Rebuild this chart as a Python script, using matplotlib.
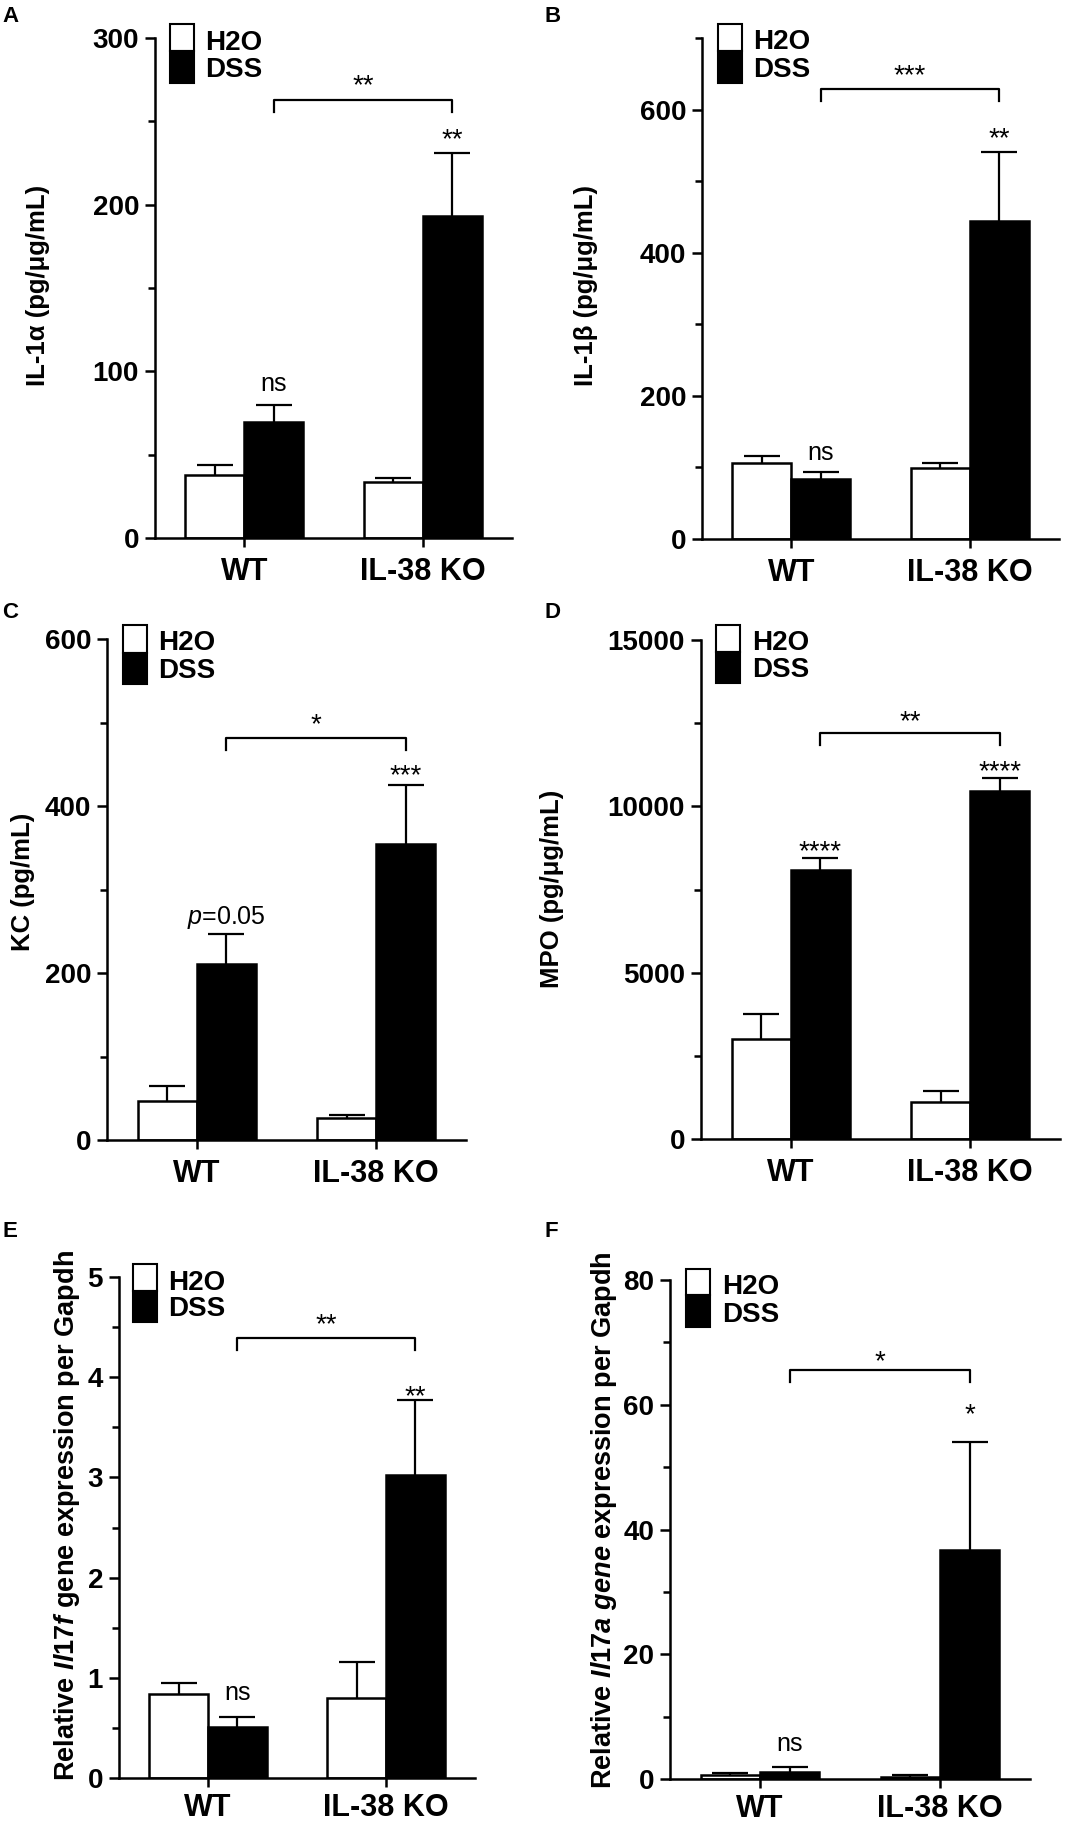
import numpy as np
import matplotlib.pyplot as plt
from matplotlib.patches import Rectangle
from matplotlib.ticker import MultipleLocator, FormatStrFormatter

plt.rcParams['font.family'] = ['Liberation Sans', 'DejaVu Sans']
plt.rcParams['font.weight'] = 'bold'
plt.rcParams['mathtext.fontset'] = 'custom'
plt.rcParams['mathtext.rm'] = 'Liberation Sans:weight=bold'
plt.rcParams['mathtext.it'] = 'Liberation Sans:style=italic:weight=bold'
plt.rcParams['mathtext.sf'] = 'Liberation Sans:style=italic:weight=normal'

groups = ['WT', 'IL-38 KO']

# A - IL-1a
il1a_h2o = [37.7, 33.5]
il1a_h2o_err = [6.3, 2.5]
il1a_dss = [69.5, 193]
il1a_dss_err = [10.5, 38]
il1a_sig = ['ns', '**', '**']          # WT DSS, KO DSS, bracket
il1a_bracket = 263

# B - IL-1b
il1b_h2o = [106, 99]
il1b_h2o_err = [10, 7]
il1b_dss = [84, 445]
il1b_dss_err = [10, 96]
il1b_sig = ['ns', '**', '***']
il1b_bracket = 629

# C - KC
kc_h2o = [47, 26]
kc_h2o_err = [17.5, 4]
kc_dss = [211, 354]
kc_dss_err = [36, 71]
kc_sig = [r'$\mathsf{p}$=0.05', '***', '*']
kc_bracket = 482

# D - MPO
mpo_h2o = [3000, 1110]
mpo_h2o_err = [770, 330]
mpo_dss = [8085, 10450]
mpo_dss_err = [360, 390]
mpo_sig = ['****', '****', '**']
mpo_bracket = 12215

# E - Il17f
il17f_h2o = [0.84, 0.80]
il17f_h2o_err = [0.11, 0.36]
il17f_dss = [0.51, 3.02]
il17f_dss_err = [0.10, 0.75]
il17f_sig = ['ns', '**', '**']
il17f_bracket = 4.39

# F - Il17a
il17a_h2o = [0.7, 0.3]
il17a_h2o_err = [0.3, 0.4]
il17a_dss = [1.2, 36.7]
il17a_dss_err = [0.7, 17.3]
il17a_sig = ['ns', '*', '*']
il17a_bracket = 65.6

W, H = 1077, 1827
fig = plt.figure(figsize=(W / 100, H / 100), dpi=100)


def px_axes(left, top, right, bottom):
    return fig.add_axes([left / W, 1 - bottom / H, (right - left) / W, (bottom - top) / H])


def fig_text(x, y, s, **kw):
    fig.text(x / W, 1 - y / H, s, **kw)


def fig_box(x, y, w, h, fc):
    fig.add_artist(Rectangle((x / W, 1 - (y + h) / H), w / W, h / H, transform=fig.transFigure,
                             facecolor=fc, edgecolor='black', linewidth=1.5))


# layout: axes box in pixels, legend geometry, label spots, annotation offsets (px above error top)
panels = [
    dict(letter='A', box=(155, 38, 512, 538), ylim=300, major=100, minor=50,
         ylabel='IL-1α (pg/μg/mL)', ylab_xy=(38, 285), ylab_fs=18.5, xpad=7,
         data=(il1a_h2o, il1a_h2o_err, il1a_dss, il1a_dss_err), sig=il1a_sig, bracket=il1a_bracket,
         offs=(14, 6, 6), leg=(170, 24, 27, 32, 205, 50, 77), letter_xy=(2, 6)),
    dict(letter='B', box=(702, 38, 1059, 539), ylim=700, major=200, minor=100,
         ylabel='IL-1β (pg/μg/mL)', ylab_xy=(586, 285), ylab_fs=18.5, xpad=7,
         data=(il1b_h2o, il1b_h2o_err, il1b_dss, il1b_dss_err), sig=il1b_sig, bracket=il1b_bracket,
         offs=(12, 6, 6), leg=(718, 24, 27, 32, 753, 49, 77), letter_xy=(545, 6)),
    dict(letter='C', box=(107, 639, 466, 1140), ylim=600, major=200, minor=100,
         ylabel='KC (pg/mL)', ylab_xy=(23, 882), ylab_fs=18.5, xpad=7,
         data=(kc_h2o, kc_h2o_err, kc_dss, kc_dss_err), sig=kc_sig, bracket=kc_bracket,
         offs=(10, 2, 5), leg=(123, 625, 28, 31, 158, 650, 678), letter_xy=(2, 602)),
    dict(letter='D', box=(701, 640, 1060, 1139), ylim=15000, major=5000, minor=2500,
         ylabel='MPO (pg/μg/mL)', ylab_xy=(552, 889), ylab_fs=18.5, xpad=7,
         data=(mpo_h2o, mpo_h2o_err, mpo_dss, mpo_dss_err), sig=mpo_sig, bracket=mpo_bracket,
         offs=(-1, -1, 3), leg=(716, 625, 27, 31, 752, 650, 677), letter_xy=(545, 602)),
    dict(letter='E', box=(119, 1277, 475, 1778), ylim=5, major=1, minor=0.5,
         ylabel=r'Relative $\mathit{Il17f}$ gene expression per Gapdh', ylab_xy=(67, 1516),
         ylab_fs=19.5, xpad=4.5,
         data=(il17f_h2o, il17f_h2o_err, il17f_dss, il17f_dss_err), sig=il17f_sig,
         bracket=il17f_bracket,
         offs=(17, -4, 6), leg=(133, 1264, 27, 31, 168, 1290, 1316), letter_xy=(2, 1221)),
    dict(letter='F', box=(670, 1280, 1030, 1779), ylim=80, major=20, minor=10,
         ylabel=r'Relative $\mathit{Il17a\ gene}$ expression per Gapdh', ylab_xy=(604, 1520),
         ylab_fs=19.5, xpad=4.5,
         data=(il17a_h2o, il17a_h2o_err, il17a_dss, il17a_dss_err), sig=il17a_sig,
         bracket=il17a_bracket,
         offs=(16, 20, 1), leg=(686, 1269, 26, 32, 722, 1294, 1322), letter_xy=(545, 1221)),
]

x = np.arange(1, len(groups) + 1)
w = 0.33

for p in panels:
    ax = px_axes(*p['box'])
    h2o, h2o_err, dss, dss_err = p['data']

    ax.bar(x - w / 2, h2o, w, color='white', edgecolor='black', linewidth=1.8, zorder=2)
    ax.bar(x + w / 2, dss, w, color='black', edgecolor='black', linewidth=1.8, zorder=2)
    for xs, m, e in [(x - w / 2, h2o, h2o_err), (x + w / 2, dss, dss_err)]:
        _, caps, _ = ax.errorbar(xs, m, yerr=[np.zeros(len(m)), e], fmt='none', ecolor='black',
                                 elinewidth=1.6, capsize=13, capthick=1.6, zorder=3)
        for c in caps:
            if np.allclose(c.get_ydata(), m):
                c.set_visible(False)

    ax.set_xlim(0.5, 2.5)
    ax.set_ylim(0, p['ylim'])
    ax.yaxis.set_major_locator(MultipleLocator(p['major']))
    ax.yaxis.set_minor_locator(MultipleLocator(p['minor']))
    ax.yaxis.set_major_formatter(FormatStrFormatter('%g'))
    ax.set_xticks(x)
    ax.set_xticklabels(groups)
    for s in ['top', 'right']:
        ax.spines[s].set_visible(False)
    for s in ['left', 'bottom']:
        ax.spines[s].set_linewidth(1.8)
    ax.tick_params(axis='y', which='major', length=7.5, width=1.8, pad=4, labelsize=20)
    ax.tick_params(axis='y', which='minor', length=5, width=1.8)
    ax.tick_params(axis='x', length=6.5, width=1.8, pad=p['xpad'], labelsize=22)

    # significance marks
    ppt = 0.72
    tops = [dss[0] + dss_err[0], dss[1] + dss_err[1]]
    for i in range(2):
        lab = p['sig'][i]
        fs = 18 if (lab == 'ns' or 'mathsf' in lab) else 20
        ax.annotate(lab, xy=(x[i] + w / 2, tops[i]), xytext=(0, p['offs'][i] * ppt),
                    textcoords='offset points', ha='center', va='baseline',
                    fontsize=fs, fontweight='normal', annotation_clip=False)
    by = p['bracket']
    leg_len = 0.024 * p['ylim']
    x1, x2 = x[0] + w / 2, x[1] + w / 2
    ax.plot([x1, x1, x2, x2], [by - leg_len, by, by, by - leg_len], color='black',
            linewidth=1.6, clip_on=False)
    ax.annotate(p['sig'][2], xy=((x1 + x2) / 2, by), xytext=(0, p['offs'][2] * ppt),
                textcoords='offset points', ha='center', va='baseline',
                fontsize=20, fontweight='normal', annotation_clip=False)

    # y label and panel letter
    fig_text(*p['ylab_xy'], p['ylabel'], rotation=90, ha='center', va='center',
             fontsize=p['ylab_fs'])
    fig_text(*p['letter_xy'], p['letter'], ha='left', va='top', fontsize=16)

    # legend boxes
    bx, btop, hw, hb, tx, ty1, ty2 = p['leg']
    fig_box(bx, btop, 24, hw, 'white')
    fig_box(bx, btop + hw, 24, hb, 'black')
    fig_text(tx, ty1, 'H2O', ha='left', va='baseline', fontsize=20)
    fig_text(tx, ty2, 'DSS', ha='left', va='baseline', fontsize=20)

fig.savefig('out.png', dpi=100)
